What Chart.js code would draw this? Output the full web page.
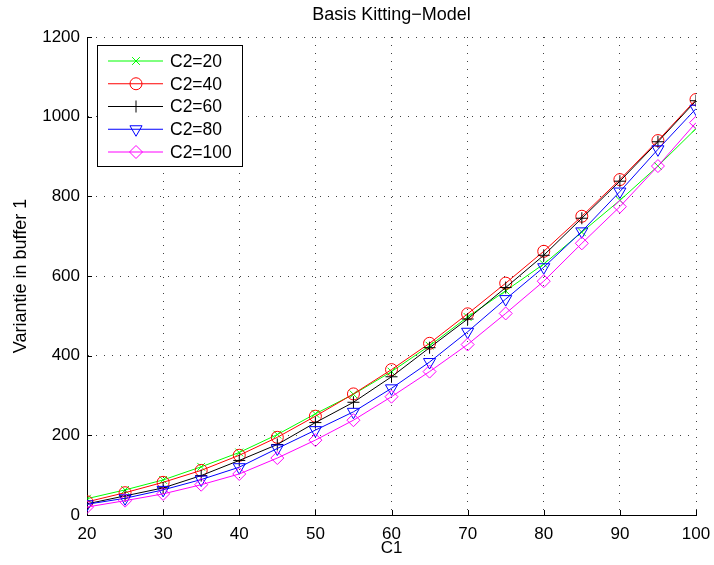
<!DOCTYPE html>
<html>
<head>
<meta charset="utf-8">
<title>Basis Kitting-Model</title>
<script src="https://cdn.jsdelivr.net/npm/chart.js@4.4.1/dist/chart.umd.min.js"></script>
<style>
  html, body { margin: 0; padding: 0; background: #fff; }
  #wrap { width: 714px; height: 565px; }
</style>
</head>
<body>
<div id="wrap"><canvas id="kitting" width="714" height="565"></canvas></div>
<script>
// C1 values on the x axis
const c1 = [20, 25, 30, 35, 40, 45, 50, 55, 60, 65, 70, 75, 80, 85, 90, 95, 100];

// variance in buffer 1, one list per C2
const c2_20  = [41, 63, 88, 121, 157, 202, 254, 303, 360, 425, 497, 563, 630, 710, 790, 876, 970];
const c2_40  = [33, 56, 82, 112, 150, 195, 248, 304, 365, 431, 505, 582, 662, 750, 842, 940, 1043];
const c2_60  = [28, 48, 68, 99, 137, 177, 232, 283, 347, 420, 492, 571, 652, 745, 838, 937, 1040];
const c2_80  = [27, 42, 63, 89, 120, 167, 213, 259, 318, 384, 460, 542, 622, 712, 812, 918, 1020];
const c2_100 = [20, 36, 53, 76, 103, 143, 188, 238, 297, 360, 428, 506, 587, 682, 774, 876, 985];

const seriesNames = ['C2=20', 'C2=40', 'C2=60', 'C2=80', 'C2=100'];
const xTicks = [20, 30, 40, 50, 60, 70, 80, 90, 100];
const yTicks = [0, 200, 400, 600, 800, 1000, 1200];
const titleText = 'Basis Kitting\u2212Model';

const FONT = '"Liberation Sans", Arial, Helvetica, sans-serif';

function pairs(ys) {
  return c1.map((x, i) => ({ x: x, y: ys[i] }));
}

// matlab-ish marker per series
const looks = [
  { color: '#00ff00', style: 'crossRot', radius: 5.5, rotation: 0 },
  { color: '#ff0000', style: 'circle',   radius: 6,   rotation: 0 },
  { color: '#000000', style: 'cross',    radius: 6,   rotation: 0 },
  { color: '#0000ff', style: 'triangle', radius: 7,   rotation: 180 },
  { color: '#ff00ff', style: 'rectRot',  radius: 6.5, rotation: 0 }
];
const allData = [c2_20, c2_40, c2_60, c2_80, c2_100];

const datasets = allData.map((ys, i) => ({
  label: seriesNames[i],
  data: pairs(ys),
  borderColor: looks[i].color,
  borderWidth: 1,
  backgroundColor: 'rgba(0,0,0,0)',
  pointStyle: looks[i].style,
  pointRadius: looks[i].radius,
  pointRotation: looks[i].rotation,
  pointBorderColor: looks[i].color,
  pointBackgroundColor: 'rgba(0,0,0,0)',
  pointBorderWidth: 1,
  tension: 0,
  fill: false,
  order: -i
}));

// inward tick marks like matlab
const innerTicks = {
  id: 'innerTicks',
  beforeDatasetsDraw(chart) {
    const ctx = chart.ctx;
    const a = chart.chartArea;
    const xs = chart.scales.x, ys = chart.scales.y;
    ctx.save();
    ctx.strokeStyle = '#000';
    ctx.lineWidth = 1;
    ctx.beginPath();
    xTicks.forEach(v => {
      const px = Math.round(xs.getPixelForValue(v)) + 0.5;
      ctx.moveTo(px, a.bottom);
      ctx.lineTo(px, a.bottom - 5);
    });
    yTicks.forEach(v => {
      const py = Math.round(ys.getPixelForValue(v)) + 0.5;
      ctx.moveTo(a.left, py);
      ctx.lineTo(a.left + 5, py);
    });
    ctx.stroke();
    ctx.restore();
  }
};

// title centred over the plot box, not the canvas
const axesTitle = {
  id: 'axesTitle',
  afterDraw(chart) {
    const ctx = chart.ctx;
    const a = chart.chartArea;
    ctx.save();
    ctx.font = '18px ' + FONT;
    ctx.fillStyle = '#000';
    ctx.textAlign = 'center';
    ctx.textBaseline = 'middle';
    ctx.fillText(titleText, (a.left + a.right) / 2, 15);
    ctx.restore();
  }
};

// boxed legend in the upper left corner
const boxLegend = {
  id: 'boxLegend',
  afterDraw(chart) {
    const ctx = chart.ctx;
    const bx = 97.5, by = 45.5, bw = 145, bh = 121;
    ctx.save();
    ctx.fillStyle = '#fff';
    ctx.fillRect(bx, by, bw, bh);
    ctx.strokeStyle = '#000';
    ctx.lineWidth = 1;
    ctx.strokeRect(bx, by, bw, bh);
    ctx.font = '17.5px ' + FONT;
    ctx.textBaseline = 'middle';
    ctx.textAlign = 'left';
    chart.data.datasets.forEach((ds, i) => {
      const y = 61 + i * 22.75;
      ctx.strokeStyle = ds.borderColor;
      ctx.beginPath();
      ctx.moveTo(108, y);
      ctx.lineTo(163, y);
      ctx.stroke();
      ctx.fillStyle = 'rgba(0,0,0,0)';
      Chart.helpers.drawPoint(ctx, {
        pointStyle: ds.pointStyle,
        radius: ds.pointRadius,
        rotation: ds.pointRotation,
        borderWidth: 1
      }, 136, y);
      ctx.fillStyle = '#000';
      ctx.fillText(ds.label, 170, y + 1);
    });
    ctx.restore();
  }
};

new Chart(document.getElementById('kitting'), {
  type: 'line',
  data: { datasets: datasets },
  options: {
    responsive: false,
    animation: false,
    layout: { padding: { left: 0, right: 18, top: 37, bottom: 0 } },
    plugins: {
      legend: { display: false },
      tooltip: { enabled: false },
      title: { display: false }
    },
    scales: {
      x: {
        type: 'linear',
        min: 20,
        max: 100,
        afterBuildTicks: s => { s.ticks = xTicks.map(v => ({ value: v })); },
        afterFit: s => { s.height = 50; s.paddingRight = 0; s.paddingLeft = 0; },
        ticks: { color: '#000', font: { family: FONT, size: 17 }, padding: 9, maxRotation: 0, callback: v => String(v) },
        grid: { color: 'rgba(0,0,0,0.75)', lineWidth: 1, drawTicks: false },
        border: { display: true, color: '#000', width: 1, dash: [1, 7] },
        title: { display: true, text: 'C1', color: '#000', font: { family: FONT, size: 17 }, padding: { top: 0, bottom: 6 } }
      },
      y: {
        min: 0,
        max: 1200,
        afterBuildTicks: s => { s.ticks = yTicks.map(v => ({ value: v })); },
        afterFit: s => { s.width = 87; s.paddingTop = 0; s.paddingBottom = 0; },
        ticks: { color: '#000', font: { family: FONT, size: 17 }, padding: 7, callback: v => String(v) },
        grid: { color: 'rgba(0,0,0,0.75)', lineWidth: 1, drawTicks: false },
        border: { display: true, color: '#000', width: 1, dash: [1, 7] },
        title: { display: true, text: 'Variantie in buffer 1', color: '#000', font: { family: FONT, size: 18 }, padding: 10 }
      }
    }
  },
  plugins: [innerTicks, axesTitle, boxLegend]
});
</script>
</body>
</html>
